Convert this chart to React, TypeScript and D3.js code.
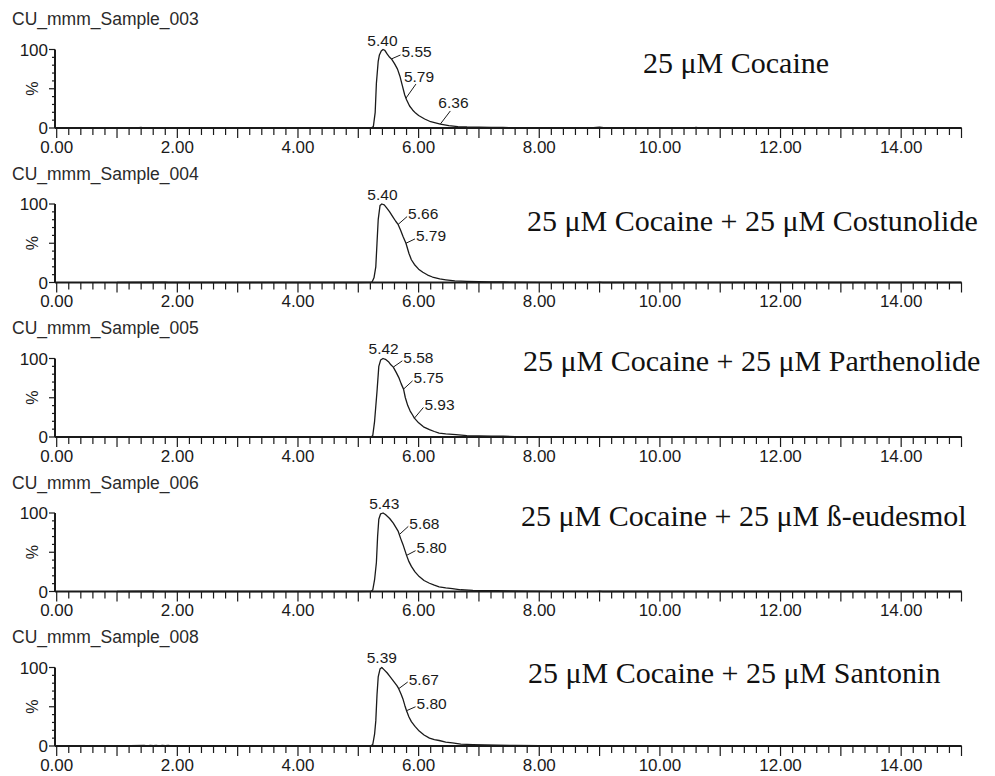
import React from 'react';
import * as d3 from 'd3';

// Chromatogram run names and the condition of each run
const SAMPLES = [
  'CU_mmm_Sample_003',
  'CU_mmm_Sample_004',
  'CU_mmm_Sample_005',
  'CU_mmm_Sample_006',
  'CU_mmm_Sample_008',
];

const CONDITIONS = [
  '25 \u03bcM Cocaine',
  '25 \u03bcM Cocaine + 25 \u03bcM Costunolide',
  '25 \u03bcM Cocaine + 25 \u03bcM Parthenolide',
  '25 \u03bcM Cocaine + 25 \u03bcM \u00df-eudesmol',
  '25 \u03bcM Cocaine + 25 \u03bcM Santonin',
];

// Time axis (min)
const X_TICK_LABELS = ['0.00', '2.00', '4.00', '6.00', '8.00', '10.00', '12.00', '14.00'];
const Y_TICK_LABELS = ['0', '100'];

// Traces: [retention time (min), relative intensity (%)]
const TRACE_003: [number, number][] = [
  [1.0, 0], [1.3, 0.6], [1.33, 0], [1.4, 0.7], [1.43, 0], [1.5, 0.6], [1.53, 0], [2.5, 0], [4.0, 0],
  [5.0, 0], [5.22, 0.3], [5.25, 2], [5.28, 20], [5.3, 57], [5.33, 85], [5.35, 93], [5.38, 98],
  [5.41, 100], [5.44, 99], [5.48, 94], [5.52, 90], [5.55, 88], [5.6, 82], [5.65, 75], [5.69, 66],
  [5.73, 54], [5.77, 42], [5.8, 36], [5.85, 28], [5.9, 23], [5.95, 19], [6.0, 16], [6.1, 11.5],
  [6.2, 8], [6.36, 5], [6.5, 3], [6.65, 1.8], [6.8, 1.3], [7.0, 1.0], [7.2, 0.8], [7.4, 0.9],
  [7.5, 0.4], [8.0, 0.2], [8.9, 0.3], [9.0, 1.1], [9.1, 0.2], [10.0, 0], [10.55, 0], [10.6, 0.9],
  [10.65, 0], [15.0, 0],
];

const TRACE_004: [number, number][] = [
  [1.0, 0], [1.8, 0.3], [1.85, 0], [3.0, 0], [5.0, 0], [5.21, 0.2], [5.23, 1], [5.26, 6],
  [5.29, 20], [5.31, 50], [5.33, 80], [5.36, 98], [5.39, 100], [5.43, 99], [5.47, 95], [5.52, 90],
  [5.57, 84], [5.62, 78], [5.66, 74], [5.7, 67], [5.74, 59], [5.79, 50], [5.84, 37], [5.88, 29],
  [5.93, 23], [6.0, 17], [6.07, 13], [6.15, 9.5], [6.23, 7], [6.35, 4.5], [6.45, 3.4], [6.6, 2],
  [6.8, 1.4], [7.0, 1.1], [7.2, 0.8], [7.4, 0.7], [7.6, 0.4], [8.0, 0.2], [8.95, 0.2], [9.0, 0.5],
  [9.05, 0], [10.0, 0], [15.0, 0],
];

const TRACE_005: [number, number][] = [
  [1.0, 0], [1.5, 0.3], [1.55, 0], [5.0, 0], [5.22, 0.3], [5.24, 2], [5.27, 20], [5.31, 58],
  [5.34, 90], [5.37, 98], [5.41, 100], [5.45, 99], [5.5, 96], [5.54, 92], [5.58, 89], [5.63, 82],
  [5.67, 76], [5.71, 68], [5.75, 61], [5.78, 50], [5.82, 40], [5.86, 33], [5.9, 28], [5.93, 24],
  [6.0, 18], [6.08, 13], [6.18, 9.5], [6.26, 7], [6.34, 5], [6.45, 4], [6.62, 3], [6.8, 1.8],
  [7.0, 1.4], [7.2, 1.1], [7.4, 1.0], [7.6, 0.6], [8.0, 0.3], [8.95, 0.2], [9.0, 0.6], [9.05, 0],
  [10.0, 0], [15.0, 0],
];

const TRACE_006: [number, number][] = [
  [1.0, 0], [1.6, 0.3], [1.65, 0], [5.0, 0], [5.21, 0.3], [5.24, 2], [5.27, 15], [5.3, 37],
  [5.32, 70], [5.34, 92], [5.37, 99], [5.41, 100], [5.45, 98], [5.52, 93], [5.58, 87], [5.62, 82],
  [5.66, 77], [5.7, 68], [5.74, 60], [5.77, 53], [5.8, 46], [5.84, 38], [5.88, 32], [5.94, 25],
  [6.01, 19], [6.09, 14], [6.18, 10.5], [6.26, 8], [6.34, 6], [6.45, 4.5], [6.56, 3.7], [6.7, 2.2],
  [6.9, 1.5], [7.1, 1.2], [7.3, 1.0], [7.5, 0.7], [7.8, 0.4], [8.2, 0.2], [8.95, 0.2], [9.0, 0.5],
  [9.05, 0], [10.0, 0], [15.0, 0],
];

const TRACE_008: [number, number][] = [
  [1.0, 0], [1.45, 0.8], [1.5, 0.2], [1.55, 0.9], [1.6, 0.3], [1.65, 0.8], [1.7, 0.2], [1.75, 0.9],
  [1.8, 0.3], [1.85, 0.7], [1.9, 0], [5.0, 0], [5.21, 0.3], [5.24, 2], [5.27, 15], [5.29, 32],
  [5.31, 65], [5.33, 88], [5.36, 98], [5.39, 100], [5.43, 97], [5.48, 93], [5.52, 89], [5.58, 83],
  [5.64, 77], [5.67, 73], [5.71, 66], [5.74, 60], [5.77, 52], [5.8, 45], [5.84, 37], [5.88, 31],
  [5.94, 25], [6.01, 19], [6.09, 14], [6.18, 10], [6.26, 8], [6.34, 7], [6.45, 5], [6.56, 4],
  [6.7, 2.5], [6.9, 1.8], [7.1, 1.4], [7.3, 1.1], [7.6, 0.8], [8.0, 0.5], [8.5, 0.3], [8.95, 0.2],
  [9.0, 0.5], [9.05, 0], [10.0, 0], [15.0, 0],
];

const TRACES = [TRACE_003, TRACE_004, TRACE_005, TRACE_006, TRACE_008];

// Apex retention time and further labelled retention times per run
const APEX_TIMES = [5.4, 5.4, 5.42, 5.43, 5.39];
const PEAK_TAGS = [
  [5.55, 5.79, 6.36],
  [5.66, 5.79],
  [5.58, 5.75, 5.93],
  [5.68, 5.8],
  [5.67, 5.8],
];

// Leader-line end heights (% of full scale) and whether a tag sits above its leader
const TAG_LEVELS = [
  [93, 56, 21.7],
  [84, 55.5],
  [97, 71.5, 37.6],
  [83, 52],
  [81.5, 50],
];
const TAG_ABOVE = [
  [false, true, true],
  [false, false],
  [false, false, false],
  [false, false],
  [false, false],
];

// Condition text placement (left x, offset of baseline above the 0 % line)
const CONDITION_X = [643, 527, 523, 521, 528];
const CONDITION_LIFT = [55, 52, 66, 65.5, 63];

const W = 995;
const H = 776;
const PANEL_STEP = 154.5;
const BASE0 = 128;
const PLOT_H = 78.5;
const AXIS_X = 55;

const SANS = 'Arial, "Liberation Sans", sans-serif';
const SERIF = '"Times New Roman", "Liberation Serif", serif';
const INK = '#1a1a1a';

const x = d3.scaleLinear().domain([0, 15]).range([56.7, 961.5]);

function valueAt(trace: [number, number][], t: number): number {
  const i = d3.bisector((d: [number, number]) => d[0]).left(trace, t);
  if (i <= 0) return trace[0][1];
  if (i >= trace.length) return trace[trace.length - 1][1];
  const [t0, v0] = trace[i - 1];
  const [t1, v1] = trace[i];
  return v0 + ((v1 - v0) * (t - t0)) / (t1 - t0);
}

function Panel({ idx }: { idx: number }) {
  const base = BASE0 + PANEL_STEP * idx;
  const y = d3.scaleLinear().domain([0, 100]).range([base, base - PLOT_H]);
  const trace = TRACES[idx];
  const line = d3
    .line<[number, number]>()
    .x((d) => x(d[0]))
    .y((d) => y(d[1]));

  const minorX = d3.range(0, 75).map((k) => k / 5).filter((v) => Math.abs(v - Math.round(v)) > 1e-6);
  const majorX = d3.range(0, 16);
  const yTicks = d3.range(0, 101, 10);

  const apexT = APEX_TIMES[idx];
  const apexX = x(apexT);
  const apexY = y(valueAt(trace, apexT));

  return (
    <g>
      <text x={12} y={y(100) - 24.5} fontFamily={SANS} fontSize={17.5} fill="#2a2a2a">
        {SAMPLES[idx]}
      </text>

      {/* y axis */}
      <line x1={AXIS_X} x2={AXIS_X} y1={y(100)} y2={y(0)} stroke={INK} strokeWidth={2} />
      {yTicks.map((v) => (
        <line
          key={'yt' + v}
          x1={AXIS_X - (v % 50 === 0 ? 6 : 3)}
          x2={AXIS_X}
          y1={y(v)}
          y2={y(v)}
          stroke={INK}
          strokeWidth={1.2}
        />
      ))}
      {Y_TICK_LABELS.map((s) => (
        <text
          key={'yl' + s}
          x={AXIS_X - 7}
          y={y(+s) + 6}
          textAnchor="end"
          fontFamily={SANS}
          fontSize={17}
          fill={INK}
        >
          {s}
        </text>
      ))}
      <text
        transform={`translate(${38},${y(50)}) rotate(-90)`}
        textAnchor="middle"
        fontFamily={SANS}
        fontSize={16}
        fill={INK}
      >
        %
      </text>

      {/* x axis */}
      <line x1={AXIS_X} x2={x(15)} y1={base} y2={base} stroke={INK} strokeWidth={2} />
      {minorX.map((v) => (
        <line key={'mx' + v} x1={x(v)} x2={x(v)} y1={base} y2={base + 7} stroke={INK} strokeWidth={1.2} />
      ))}
      {majorX.map((v) => (
        <line key={'Mx' + v} x1={x(v)} x2={x(v)} y1={base} y2={base + 10} stroke={INK} strokeWidth={1.2} />
      ))}
      {X_TICK_LABELS.map((s) => (
        <text
          key={'xl' + s}
          x={x(parseFloat(s))}
          y={base + 24.5}
          textAnchor="middle"
          fontFamily={SANS}
          fontSize={17}
          fill={INK}
        >
          {s}
        </text>
      ))}

      {/* trace */}
      <path d={line(trace) || ''} fill="none" stroke={INK} strokeWidth={1.3} strokeLinejoin="round" />

      {/* apex label */}
      <text x={apexX} y={apexY - 4.5} textAnchor="middle" fontFamily={SANS} fontSize={15.5} fill={INK}>
        {apexT.toFixed(2)}
      </text>

      {/* labelled retention times */}
      {PEAK_TAGS[idx].map((t, j) => {
        const cx = x(t);
        const cy = y(valueAt(trace, t));
        const ey = y(TAG_LEVELS[idx][j]);
        const above = TAG_ABOVE[idx][j];
        const ex = above ? cx + 10 : cx + 9;
        const tx = above ? cx - 2 : cx + 10;
        const tcy = above ? ey - 8 : ey - 3;
        return (
          <g key={'tag' + t}>
            <line x1={cx} y1={cy} x2={ex} y2={ey} stroke={INK} strokeWidth={1} />
            <text x={tx} y={tcy + 5.5} fontFamily={SANS} fontSize={15.5} fill={INK}>
              {t.toFixed(2)}
            </text>
          </g>
        );
      })}

      {/* condition */}
      <text
        x={CONDITION_X[idx]}
        y={base - CONDITION_LIFT[idx]}
        fontFamily={SERIF}
        fontSize={30}
        fill="#111"
      >
        {CONDITIONS[idx]}
      </text>
    </g>
  );
}

export default function App() {
  return (
    <svg
      width={W}
      height={H}
      viewBox={`0 0 ${W} ${H}`}
      style={{ position: 'absolute', left: 0, top: 0, background: '#fff' }}
    >
      <rect x={0} y={0} width={W} height={H} fill="#fff" />
      {SAMPLES.map((_, i) => (
        <Panel key={i} idx={i} />
      ))}
    </svg>
  );
}
